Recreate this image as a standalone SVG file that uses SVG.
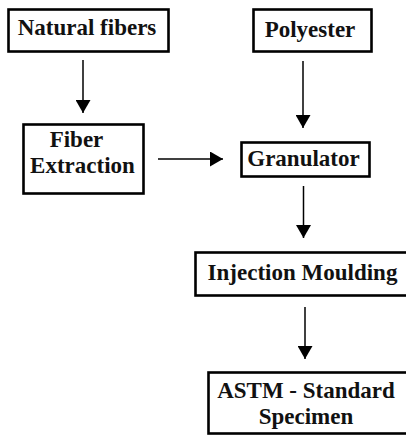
<svg xmlns="http://www.w3.org/2000/svg" width="406" height="435" viewBox="0 0 406 435">
<style>
.box{fill:#fff;stroke:#000;stroke-width:2.6}
.c{stroke:#000;stroke-width:1.5;fill:none}
</style>
<defs>
<marker id="ah" markerUnits="userSpaceOnUse" markerWidth="13" markerHeight="15" refX="13" refY="7.5" orient="auto">
<path d="M0,0 L13,7.5 L0,15 z" fill="#000"/>
</marker>
</defs>
<rect width="406" height="435" fill="#fff"/>
<g font-family="Liberation Serif" font-weight="bold" font-size="23" fill="#111" text-anchor="middle">
<g id="natural-fibers">
<rect class="box" x="8.5" y="9.5" width="160" height="42"/>
<text x="87" y="35">Natural fibers</text>
</g>
<g id="polyester">
<rect class="box" x="253.5" y="9.5" width="118" height="42"/>
<text x="310" y="37">Polyester</text>
</g>
<g id="fiber-extraction">
<rect class="box" x="23.5" y="124.5" width="120" height="69"/>
<text x="76.5" y="147">Fiber</text>
<text x="82.5" y="173">Extraction</text>
</g>
<g id="granulator">
<rect class="box" x="241.5" y="142.5" width="128" height="34"/>
<text x="303.5" y="166">Granulator</text>
</g>
<g id="injection-moulding">
<rect class="box" x="195.5" y="252.5" width="216" height="43"/>
<text x="302.5" y="280">Injection Moulding</text>
</g>
<g id="astm-specimen">
<rect class="box" x="208.5" y="372.5" width="204" height="61"/>
<text x="306" y="398">ASTM - Standard</text>
<text x="306" y="424">Specimen</text>
</g>
</g>
<g id="connectors">
<line class="c" x1="83" y1="60" x2="83" y2="113" marker-end="url(#ah)"/>
<line class="c" x1="158" y1="159" x2="223" y2="159" marker-end="url(#ah)"/>
<line class="c" x1="303" y1="61" x2="303" y2="128" marker-end="url(#ah)"/>
<line class="c" x1="303.5" y1="186" x2="303.5" y2="238" marker-end="url(#ah)"/>
<line class="c" x1="305" y1="307" x2="305" y2="359" marker-end="url(#ah)"/>
</g>
</svg>
